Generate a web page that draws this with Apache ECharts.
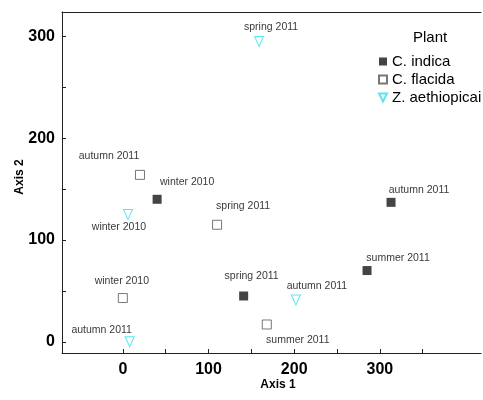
<!DOCTYPE html>
<html>
<head>
<meta charset="utf-8">
<script src="https://cdn.jsdelivr.net/npm/echarts@6/dist/echarts.min.js"></script>
<style>
  html, body { margin: 0; padding: 0; background: #fff; }
  #chart { width: 483px; height: 400px; }
</style>
</head>
<body>
<div id="chart"></div>
<script>
// data
const plants = ['C. indica', 'C. flacida', 'Z. aethiopicai']
const indicaPoints = [[40, 140], [141, 45], [285, 70], [313, 137]]
const indicaSeasons = ['winter 2010', 'spring 2011', 'summer 2011', 'autumn 2011']
const flacidaPoints = [[20, 164], [110, 115], [0, 43], [168, 17]]
const flacidaSeasons = ['autumn 2011', 'spring 2011', 'winter 2010', 'summer 2011']
const zantePoints = [[159, 295], [6, 125], [8, 0], [202, 41]]
const zanteSeasons = ['spring 2011', 'winter 2010', 'autumn 2011', 'autumn 2011']
const xTicks = [0, 50, 100, 150, 200, 250, 300, 350]
const xLabels = [0, 100, 200, 300]
const yTicks = [0, 50, 100, 150, 200, 250, 300]
const yLabels = [0, 100, 200, 300]

// where each point's label sits relative to its marker (px)
const indicaShift = [[30, -17], [8, -20], [31, -12], [28, -12]]
const flacidaShift = [[-31, -19], [26, -19], [-1, -17], [31, 16]]
const zanteShift = [[12, -14], [-9, 13], [-28, -12], [21, -14]]

const triangleDown = 'path://M0,0L10,0L5,10Z'

function makeSeries (name, points, seasons, shift, symbol, size, itemStyle) {
  return {
    name: name,
    type: 'scatter',
    symbol: symbol,
    symbolSize: size,
    itemStyle: itemStyle,
    data: points.map((p, i) => ({
      value: p,
      label: {
        show: true,
        formatter: seasons[i],
        position: 'inside',
        offset: shift[i]
      }
    })),
    label: {
      color: '#000',
      fontSize: 10.5,
      fontFamily: 'Liberation Sans'
    },
    emphasis: { disabled: true }
  }
}

const chart = echarts.init(document.getElementById('chart'))
const axisLine = { show: true, onZero: false, lineStyle: { color: '#222', width: 1 } }
chart.setOption({
  animation: false,
  textStyle: { fontFamily: 'Liberation Sans' },
  title: {
    text: 'Plant',
    left: 413,
    top: 30,
    padding: 0,
    textStyle: { fontSize: 15, fontWeight: 'normal', color: '#000', fontFamily: 'Liberation Sans' }
  },
  legend: {
    data: plants,
    orient: 'vertical',
    left: 378,
    top: 54,
    padding: 0,
    itemWidth: 8,
    itemHeight: 8,
    itemGap: 3,
    textStyle: { fontSize: 15, lineHeight: 15, color: '#000', fontFamily: 'Liberation Sans' }
  },
  grid: { left: 62, right: 2, top: 12, bottom: 47 },
  xAxis: [
    {
      type: 'value',
      min: -71,
      max: 418,
      name: 'Axis 1',
      nameLocation: 'middle',
      nameGap: 26,
      nameMoveOverlap: false,
      nameTextStyle: { fontSize: 12, fontWeight: 'bold', color: '#000', padding: [0, 0, 0, 13] },
      axisLine: axisLine,
      axisTick: { show: true, inside: true, length: 4, customValues: xTicks, lineStyle: { color: '#222' } },
      axisLabel: { customValues: xLabels, fontSize: 16, fontWeight: 'bold', color: '#000', margin: 9 },
      splitLine: { show: false }
    },
    {
      type: 'value',
      position: 'top',
      min: -71,
      max: 418,
      axisLine: axisLine,
      axisTick: { show: false },
      axisLabel: { show: false },
      splitLine: { show: false }
    }
  ],
  yAxis: {
    type: 'value',
    min: -11,
    max: 324,
    name: 'Axis 2',
    nameLocation: 'middle',
    nameGap: 36,
    nameMoveOverlap: false,
    nameTextStyle: { fontSize: 12, fontWeight: 'bold', color: '#000', padding: [0, 0, 0, 11] },
    axisLine: axisLine,
    axisTick: { show: true, inside: true, length: 4, customValues: yTicks, lineStyle: { color: '#222' } },
    axisLabel: { customValues: yLabels, fontSize: 16, fontWeight: 'bold', color: '#000', margin: 7 },
    splitLine: { show: false }
  },
  series: [
    makeSeries(plants[0], indicaPoints, indicaSeasons, indicaShift, 'rect', 9,
      { color: '#151515' }),
    makeSeries(plants[1], flacidaPoints, flacidaSeasons, flacidaShift, 'rect', 9,
      { color: '#fff', borderColor: '#555', borderWidth: 1 }),
    makeSeries(plants[2], zantePoints, zanteSeasons, zanteShift, triangleDown, [9, 10],
      { color: '#fff', borderColor: '#33e0f0', borderWidth: 1 })
  ]
})
</script>
</body>
</html>
